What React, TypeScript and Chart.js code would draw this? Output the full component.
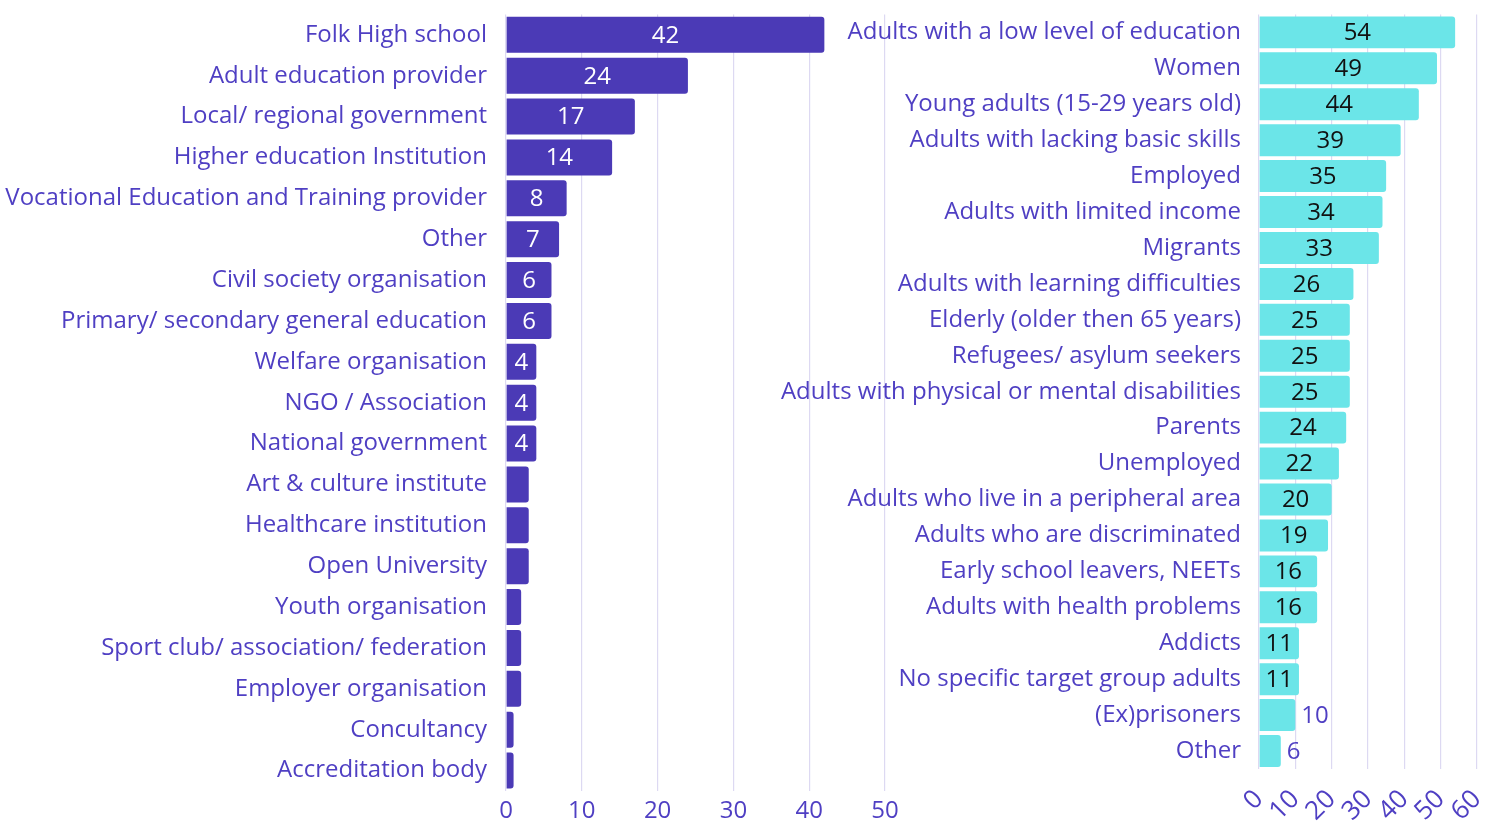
import React, { useEffect, useRef } from "react";
import { Chart, registerables } from "chart.js";

Chart.register(...registerables);

const orgLabels = [
  "Folk High school",
  "Adult education provider",
  "Local/ regional government",
  "Higher education Institution",
  "Vocational Education and Training provider",
  "Other",
  "Civil society organisation",
  "Primary/ secondary general education",
  "Welfare organisation",
  "NGO / Association",
  "National government",
  "Art & culture institute",
  "Healthcare institution",
  "Open University",
  "Youth organisation",
  "Sport club/ association/ federation",
  "Employer organisation",
  "Concultancy",
  "Accreditation body",
];
const orgValues = [42, 24, 17, 14, 8, 7, 6, 6, 4, 4, 4, 3, 3, 3, 2, 2, 2, 1, 1];
const orgTicks = [0, 10, 20, 30, 40, 50];

const targetLabels = [
  "Adults with a low level of education",
  "Women",
  "Young adults (15-29 years old)",
  "Adults with lacking basic skills",
  "Employed",
  "Adults with limited income",
  "Migrants",
  "Adults with learning difficulties",
  "Elderly (older then 65 years)",
  "Refugees/ asylum seekers",
  "Adults with physical or mental disabilities",
  "Parents",
  "Unemployed",
  "Adults who live in a peripheral area",
  "Adults who are discriminated",
  "Early school leavers, NEETs",
  "Adults with health problems",
  "Addicts",
  "No specific target group adults",
  "(Ex)prisoners",
  "Other",
];
const targetValues = [54, 49, 44, 39, 35, 34, 33, 26, 25, 25, 25, 24, 22, 20, 19, 16, 16, 11, 11, 10, 6];
const targetTicks = [0, 10, 20, 30, 40, 50, 60];

const FONT = "'Open Sans'";
const TEXT = "#4F3FC3";
const GRID = "#DDD9F2";
const PURPLE = "#4B3AB6";
const CYAN = "#6BE5E8";

type LabelCfg = { minInside: number; insideColor: string; outsideColor: string | null };

function valuePlugin(cfg: LabelCfg) {
  return {
    id: "valueLabels",
    afterDatasetsDraw(chart: any) {
      const ctx = chart.ctx;
      const meta = chart.getDatasetMeta(0);
      const data = chart.data.datasets[0].data as number[];
      ctx.save();
      ctx.font = `24px ${FONT}`;
      ctx.textBaseline = "middle";
      meta.data.forEach((bar: any, i: number) => {
        const v = data[i];
        const p = bar.getProps(["x", "y", "base"], true);
        if (v >= cfg.minInside) {
          ctx.fillStyle = cfg.insideColor;
          ctx.textAlign = "center";
          ctx.fillText(String(v), (p.x + p.base) / 2, p.y + 1);
        } else if (cfg.outsideColor) {
          ctx.fillStyle = cfg.outsideColor;
          ctx.textAlign = "left";
          ctx.fillText(String(v), p.x + 6, p.y + 1);
        }
      });
      ctx.restore();
    },
  };
}

function BarChart(props: {
  labels: string[];
  values: number[];
  ticks: number[];
  color: string;
  yWidth: number;
  xHeight: number;
  padding: any;
  width: number;
  barPct: number;
  rotate: number;
  tickPad: number;
  tickSize: number;
  yPad: number;
  label: LabelCfg;
}) {
  const ref = useRef<HTMLCanvasElement>(null);
  useEffect(() => {
    const max = props.ticks[props.ticks.length - 1];
    const chart = new Chart(ref.current!, {
      type: "bar",
      data: {
        labels: props.labels,
        datasets: [
          {
            data: props.values,
            backgroundColor: props.color,
            borderRadius: 3,
            categoryPercentage: 1,
            barPercentage: props.barPct,
          },
        ],
      },
      options: {
        indexAxis: "y",
        animation: false,
        responsive: false,
        maintainAspectRatio: false,
        layout: { padding: props.padding },
        plugins: { legend: { display: false }, tooltip: { enabled: false }, title: { display: false } },
        scales: {
          x: {
            min: 0,
            max,
            afterBuildTicks: (s: any) => {
              s.ticks = props.ticks.map((v) => ({ value: v }));
            },
            afterFit: (s: any) => {
              s.height = props.xHeight;
            },
            grid: { color: GRID, lineWidth: 1.2, drawTicks: false },
            border: { display: false },
            ticks: {
              color: TEXT,
              font: { family: FONT, size: props.tickSize },
              padding: props.tickPad,
              minRotation: props.rotate,
              maxRotation: props.rotate,
              autoSkip: false,
            },
          },
          y: {
            afterFit: (s: any) => {
              s.width = props.yWidth;
            },
            grid: { display: false, drawTicks: true, tickLength: props.yPad },
            border: { display: false },
            ticks: {
              color: TEXT,
              font: { family: FONT, size: 24 },
              padding: 0,
              autoSkip: false,
            },
          },
        },
      },
      plugins: [valuePlugin(props.label)],
    });
    return () => chart.destroy();
  }, []);
  return <canvas ref={ref} width={props.width} height={821} style={{ display: "block" }} />;
}

export default function App() {
  return (
    <div style={{ position: "fixed", left: 0, top: 0, width: 1499, height: 821, overflow: "hidden", background: "#fff" }}>
      <div style={{ position: "absolute", left: 0, top: 0, width: 910, height: 821 }}>
        <BarChart
          labels={orgLabels}
          values={orgValues}
          ticks={orgTicks}
          color={PURPLE}
          yWidth={506}
          xHeight={821 - 791}
          padding={{ top: 14, right: 25, bottom: 0, left: 0 }}
          width={910}
          barPct={0.88}
          rotate={0}
          tickPad={6}
          tickSize={24}
          yPad={19}
          label={{ minInside: 4, insideColor: "#ffffff", outsideColor: null }}
        />
      </div>
      <div style={{ position: "absolute", left: 760, top: 0, width: 770, height: 821 }}>
        <BarChart
          labels={targetLabels}
          values={targetValues}
          ticks={targetTicks}
          color={CYAN}
          yWidth={499}
          xHeight={821 - 769}
          padding={{ top: 9, right: 22, bottom: 0, left: 0 }}
          width={754}
          barPct={0.89}
          rotate={45}
          tickPad={15}
          tickSize={26}
          yPad={18}
          label={{ minInside: 11, insideColor: "#111111", outsideColor: TEXT }}
        />
      </div>
    </div>
  );
}
